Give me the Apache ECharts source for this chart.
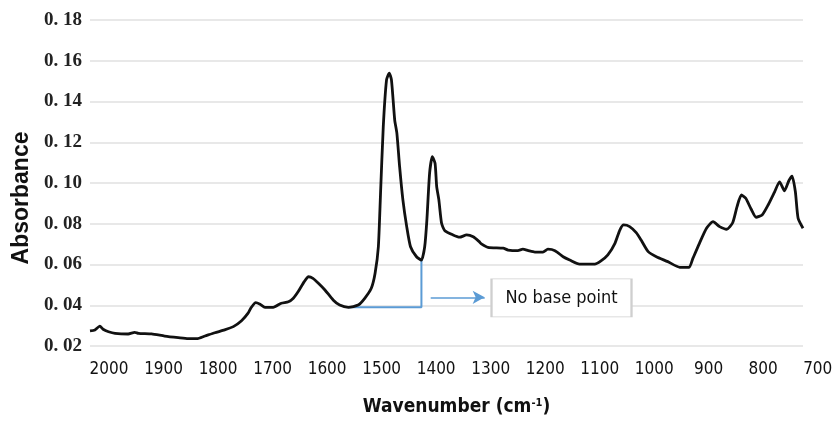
<!DOCTYPE html>
<html>
<head>
<meta charset="utf-8">
<script src="https://cdn.jsdelivr.net/npm/echarts@6/dist/echarts.min.js"></script>
<style>
  html, body { margin: 0; padding: 0; background: #fff; }
  #chart { width: 836px; height: 428px; }
</style>
</head>
<body>
<div id="chart"></div>
<script>
// spectrum (wavenumber descending)
var wavenumber = [2035, 2026, 2017, 2011, 2001, 1989, 1965, 1953, 1946, 1922,
  1898, 1873, 1855, 1839, 1824, 1806, 1788, 1772, 1757, 1745,
  1739, 1731, 1723, 1714, 1699, 1684, 1671, 1662, 1653, 1642,
  1634, 1626, 1616, 1604, 1589, 1577, 1561, 1543, 1531, 1519,
  1512, 1506, 1502, 1497, 1491, 1486, 1482, 1476, 1472, 1467,
  1461, 1454, 1447, 1436, 1427, 1421, 1417, 1412, 1407, 1402,
  1399, 1395, 1390, 1384, 1369, 1357, 1344, 1332, 1321, 1317,
  1305, 1277, 1268, 1250, 1241, 1231, 1219, 1204, 1195, 1182,
  1167, 1155, 1137, 1109, 1097, 1085, 1072, 1063, 1056, 1045,
  1033, 1024, 1011, 996, 975, 953, 936, 929, 917, 904,
  892, 880, 867, 856, 848, 840, 832, 822, 813, 802,
  791, 779, 770, 761, 753, 747, 741, 736, 727];
var absorbance = [0.0274, 0.0279, 0.0298, 0.0282, 0.0270, 0.0262, 0.0259, 0.0267, 0.0262, 0.0259,
  0.0249, 0.0241, 0.0236, 0.0236, 0.0249, 0.0265, 0.0279, 0.0295, 0.0324, 0.0361,
  0.0390, 0.0413, 0.0405, 0.0390, 0.0390, 0.0410, 0.0417, 0.0434, 0.0467, 0.0516,
  0.0540, 0.0532, 0.0508, 0.0475, 0.0426, 0.0401, 0.0390, 0.0401, 0.0434, 0.0483,
  0.0557, 0.0687, 0.0950, 0.1276, 0.1506, 0.1539, 0.1506, 0.1309, 0.1244, 0.1080,
  0.0917, 0.0786, 0.0687, 0.0638, 0.0622, 0.0687, 0.0818, 0.1048, 0.1129, 0.1097,
  0.0982, 0.0917, 0.0802, 0.0766, 0.0745, 0.0734, 0.0745, 0.0736, 0.0712, 0.0701,
  0.0684, 0.0680, 0.0671, 0.0668, 0.0675, 0.0668, 0.0661, 0.0661, 0.0675, 0.0668,
  0.0638, 0.0622, 0.0602, 0.0602, 0.0619, 0.0647, 0.0704, 0.0769, 0.0794, 0.0786,
  0.0756, 0.0720, 0.0663, 0.0638, 0.0614, 0.0586, 0.0586, 0.0630, 0.0704, 0.0778,
  0.0810, 0.0786, 0.0773, 0.0805, 0.0884, 0.0941, 0.0925, 0.0871, 0.0832, 0.0843,
  0.0892, 0.0957, 0.1006, 0.0962, 0.1011, 0.1034, 0.0957, 0.0827, 0.0778];

// tick labels
var xTicks = [2000, 1900, 1800, 1700, 1600, 1500, 1400, 1300, 1200, 1100, 1000, 900, 800, 700];
var yTicks = [0.02, 0.04, 0.06, 0.08, 0.10, 0.12, 0.14, 0.16, 0.18];

// "no base point" annotation
var baseX = [1562, 1427, 1427];
var baseY = [0.039, 0.039, 0.0622];
var arrowX = [1410, 1311];
var arrowY = [0.0439, 0.0439];
var noteText = 'No base point';
var notePos = [1170, 0.0436];

var blue = '#5b9bd5';
var sansNarrow = "'Liberation Sans Narrow', 'DejaVu Sans Condensed', sans-serif";

var spectrum = wavenumber.map(function (w, i) { return [w, absorbance[i]]; });
var bracket = baseX.map(function (w, i) { return [w, baseY[i]]; });

var myChart = echarts.init(document.getElementById('chart'));

var option = {
  animation: false,
  grid: { left: 90, right: 33, top: 20, bottom: 82, outerBoundsMode: 'none', containLabel: false },
  xAxis: {
    type: 'value',
    inverse: true,
    min: 727,
    max: 2035,
    axisLine: { show: false },
    axisTick: { show: false },
    splitLine: { show: false },
    axisLabel: {
      customValues: xTicks,
      margin: 15,
      color: '#111',
      fontSize: 17,
      fontFamily: sansNarrow,
      formatter: function (v) { return String(v); }
    },
    name: '{b|Wavenumber (cm}{s|-1}{b|)}',
    nameLocation: 'middle',
    nameGap: 52,
    nameTextStyle: {
      padding: [0, 0, 0, 20],
      rich: {
        b: { fontSize: 19, fontWeight: 'bold', color: '#111', fontFamily: sansNarrow },
        s: { fontSize: 11, fontWeight: 'bold', color: '#111', verticalAlign: 'top', fontFamily: sansNarrow }
      }
    }
  },
  yAxis: {
    type: 'value',
    min: 0.02,
    max: 0.18,
    interval: 0.02,
    axisLine: { show: false },
    axisTick: { show: false },
    splitLine: { show: true, lineStyle: { color: '#e0e0e0', width: 1.5 } },
    axisLabel: {
      customValues: yTicks,
      margin: 8,
      color: '#222',
      fontSize: 19,
      fontWeight: 'bold',
      fontFamily: "'Liberation Serif', serif",
      formatter: function (v) { return v.toFixed(2).replace('.', '. '); }
    },
    name: 'Absorbance',
    nameLocation: 'middle',
    nameGap: 57,
    nameTextStyle: {
      fontSize: 23,
      fontWeight: 'bold',
      color: '#111',
      fontFamily: "'Liberation Sans', Arial, sans-serif",
      padding: [0, 30, 0, 0]
    }
  },
  series: [
    {
      name: 'spectrum',
      type: 'line',
      data: spectrum,
      showSymbol: false,
      smooth: 0.2,
      lineStyle: { color: '#111', width: 2.8 },
      z: 3
    },
    {
      name: 'base',
      type: 'line',
      data: bracket,
      showSymbol: false,
      lineStyle: { color: blue, width: 2 },
      z: 2,
      markLine: {
        silent: true,
        symbol: ['none', 'arrow'],
        symbolSize: [10, 12],
        lineStyle: { color: blue, width: 1.5, type: 'solid' },
        label: { show: false },
        data: [[
          { coord: [arrowX[0], arrowY[0]] },
          { coord: [arrowX[1], arrowY[1]] }
        ]]
      },
      markPoint: {
        silent: true,
        symbol: 'rect',
        symbolSize: [140, 38],
        itemStyle: { color: '#fff', borderColor: '#cfcfcf', borderWidth: 1.2 },
        label: {
          show: true,
          position: 'inside',
          color: '#111',
          fontSize: 18,
          fontFamily: sansNarrow,
          formatter: noteText
        },
        data: [{ coord: notePos }]
      }
    }
  ]
};

myChart.setOption(option);

// the last label sits past the end of the data range, so place it by the axis scale
var last = xTicks[xTicks.length - 1];
var px = myChart.convertToPixel({ xAxisIndex: 0 }, last);
var py = myChart.convertToPixel({ yAxisIndex: 0 }, 0.02);
myChart.setOption({
  graphic: [{
    type: 'text',
    x: px,
    y: py + 15,
    style: {
      text: String(last),
      fill: '#111',
      fontSize: 17,
      fontFamily: sansNarrow,
      align: 'center',
      verticalAlign: 'top'
    }
  }]
});
</script>
</body>
</html>
